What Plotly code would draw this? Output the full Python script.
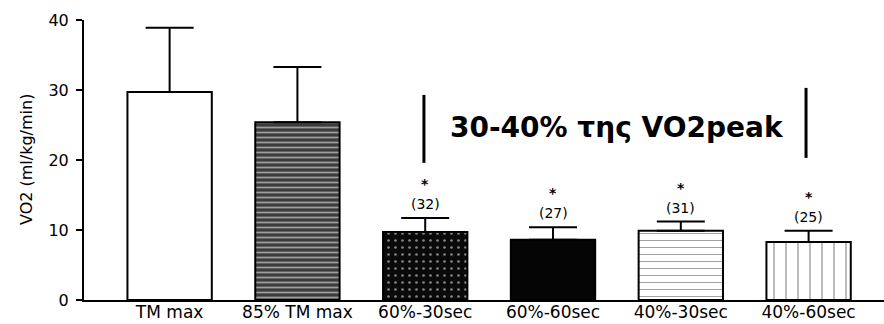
import plotly.graph_objects as go

categories = ["TM max", "85% TM max", "60%-30sec", "60%-60sec", "40%-30sec", "40%-60sec"]
values = [29.7, 25.4, 9.7, 8.6, 9.9, 8.3]
errors = [9.2, 7.9, 2.0, 1.8, 1.3, 1.6]
n_labels = ["", "", "(32)", "(27)", "(31)", "(25)"]
star_labels = ["", "", "*", "*", "*", "*"]
y_ticks = [0, 10, 20, 30, 40]
annotation_text = "30-40% της VO2peak"
y_title = "VO2 (ml/kg/min)"

fill_colors = ["white", "#3c3c3c", "#0a0a0a", "#050505", "white", "white"]
pattern_shapes = ["", "-", ".", "", "-", "|"]
pattern_fg = ["black", "#9a9a9a", "#5a5a5a", "black", "#666666", "#666666"]
pattern_size = [8, 5, 7, 8, 7, 12]
pattern_solidity = [0.2, 0.35, 0.12, 0.2, 0.15, 0.12]

x_idx = list(range(len(categories)))
TICK_FONT = "DejaVu Sans"

fig = go.Figure()
fig.add_trace(go.Bar(
    x=x_idx, y=values,
    width=0.66,
    marker=dict(
        color=fill_colors,
        line=dict(color="black", width=2),
        pattern=dict(shape=pattern_shapes, fgcolor=pattern_fg, size=pattern_size,
                     solidity=pattern_solidity),
    ),
    error_y=dict(type="data", array=errors, arrayminus=[0]*len(errors), symmetric=False,
                 color="black", thickness=2, width=24),
    showlegend=False,
))

annotations = []
for i in x_idx:
    if star_labels[i]:
        top = values[i] + errors[i]
        annotations.append(dict(x=i, y=top, xref="x", yref="y", text=n_labels[i],
                                showarrow=False, yshift=14,
                                font=dict(family=TICK_FONT, size=14, color="black")))
        annotations.append(dict(x=i, y=top, xref="x", yref="y", text="<b>" + star_labels[i] + "</b>",
                                showarrow=False, yshift=34,
                                font=dict(family=TICK_FONT, size=14, color="black")))

annotations.append(dict(x=3.50, y=24.7, xref="x", yref="y", text="<b>" + annotation_text + "</b>",
                        showarrow=False,
                        font=dict(family="DejaVu Sans", size=28, color="black")))

annotations.append(dict(x=(26 - 84) / (884 - 84), y=0.5, xref="paper", yref="paper",
                        xanchor="center", yanchor="middle",
                        text=y_title, textangle=-90, showarrow=False,
                        font=dict(family=TICK_FONT, size=16, color="black")))

shapes = [
    dict(type="line", xref="x", yref="y", x0=1.99, x1=1.99, y0=19.6, y1=29.3,
         line=dict(color="black", width=3)),
    dict(type="line", xref="x", yref="y", x0=4.98, x1=4.98, y0=20.3, y1=30.3,
         line=dict(color="black", width=3)),
]

fig.update_layout(
    width=884, height=324,
    margin=dict(l=84, r=0, t=20, b=24),
    paper_bgcolor="white", plot_bgcolor="white",
    annotations=annotations,
    shapes=shapes,
    xaxis=dict(
        tickmode="array", tickvals=x_idx, ticktext=categories,
        range=[-0.67, 5.59], automargin=False,
        showline=True, linecolor="black", linewidth=2,
        ticks="", showgrid=False, zeroline=False,
        ticklabelstandoff=-4,
        tickfont=dict(family=TICK_FONT, size=17, color="black"),
    ),
    yaxis=dict(
        range=[0, 40], tickvals=y_ticks, automargin=False,
        showline=True, linecolor="black", linewidth=2,
        ticks="outside", ticklen=6, tickwidth=2, tickcolor="black",
        ticklabelstandoff=4,
        showgrid=False, zeroline=False,
        tickfont=dict(family=TICK_FONT, size=16, color="black"),
    ),
)

fig.write_html("out.html", config={"displayModeBar": False},
               post_script="document.body.style.margin='0';")
